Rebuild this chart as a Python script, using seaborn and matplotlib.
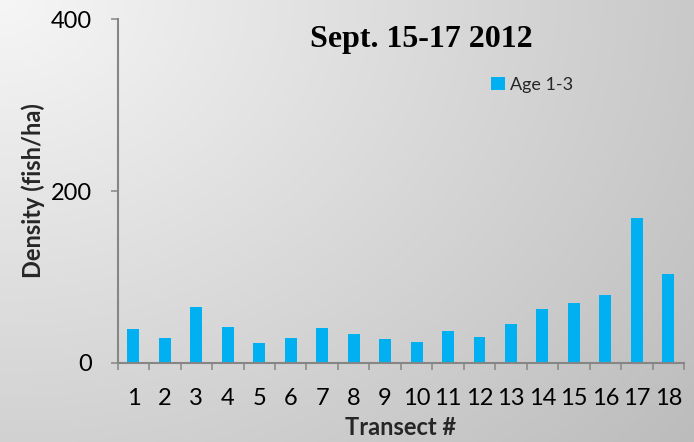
import numpy as np
import pandas as pd
import matplotlib
matplotlib.use("Agg")
import matplotlib.pyplot as plt
import seaborn as sns

# Age 1-3 fish density by transect, Sept. 15-17 2012
transects = [str(i) for i in range(1, 19)]
density = [39, 29, 65, 42, 23, 29, 40, 33, 28, 24, 37, 30, 45, 62, 70, 79, 169, 103]
series_name = "Age 1-3"
title_text = "Sept. 15-17 2012"
y_ticks = [0, 200, 400]

sns.set_theme(style="white")
plt.rcParams["font.family"] = ["Lato", "DejaVu Sans"]

df = pd.DataFrame({"Transect": transects, "Density": density, "Series": series_name})

fig = plt.figure(figsize=(6.94, 4.42), dpi=100)

# diagonal grey gradient backdrop
bg = fig.add_axes([0, 0, 1, 1], zorder=-10)
h, w = 442, 694
yy, xx = np.mgrid[0:h, 0:w]
d = np.sqrt((xx / w) ** 2 * 0.9 + (yy / h) ** 2 * 0.6)
d = d / d.max()
shade = (246 - 58 * d) / 255.0
bg.imshow(np.dstack([shade] * 3), aspect="auto", extent=[0, 1, 0, 1])
bg.set_axis_off()

ax = fig.add_axes([0.1696, 0.1794, 0.816, 0.7769])
ax.patch.set_alpha(0)
sns.barplot(data=df, x="Transect", y="Density", hue="Series", palette=["#00B0F0"],
            width=0.38, ax=ax, saturation=1, edgecolor="none")

ax.set_ylim(0, 400)
ax.set_xlim(-0.5, len(transects) - 0.5)
ax.set_yticks(y_ticks)
ax.set_yticklabels([str(v) for v in y_ticks], fontsize=17, color="black")
ax.tick_params(axis="x", which="major", length=0, labelsize=17, labelcolor="black", pad=18)
ax.set_xticks(np.arange(-0.5, len(transects)), minor=True)
ax.tick_params(axis="x", which="minor", length=5, width=1.1, color="#868686", direction="out", bottom=True)
ax.tick_params(axis="y", length=5, width=1.1, color="#868686", direction="out", left=True, pad=13.5)

for side in ["top", "right"]:
    ax.spines[side].set_visible(False)
for side in ["left", "bottom"]:
    ax.spines[side].set_color("#868686")
    ax.spines[side].set_linewidth(1.5)

ax.set_xlabel("Transect #", fontsize=17, fontweight="bold", labelpad=5)
ax.set_ylabel("Density (fish/ha)", fontsize=17, fontweight="bold", labelpad=4)

ax.text(0.536, 0.94, title_text, transform=ax.transAxes, ha="center", va="center",
        fontsize=23, fontweight="bold", family="Liberation Serif", color="black")

leg = ax.legend(loc="center left", bbox_to_anchor=(0.66, 0.81), frameon=False, fontsize=13,
                handlelength=0.75, handleheight=0.75, handletextpad=0.3, borderaxespad=0,
                borderpad=0)

fig.savefig("out.png", dpi=100)
